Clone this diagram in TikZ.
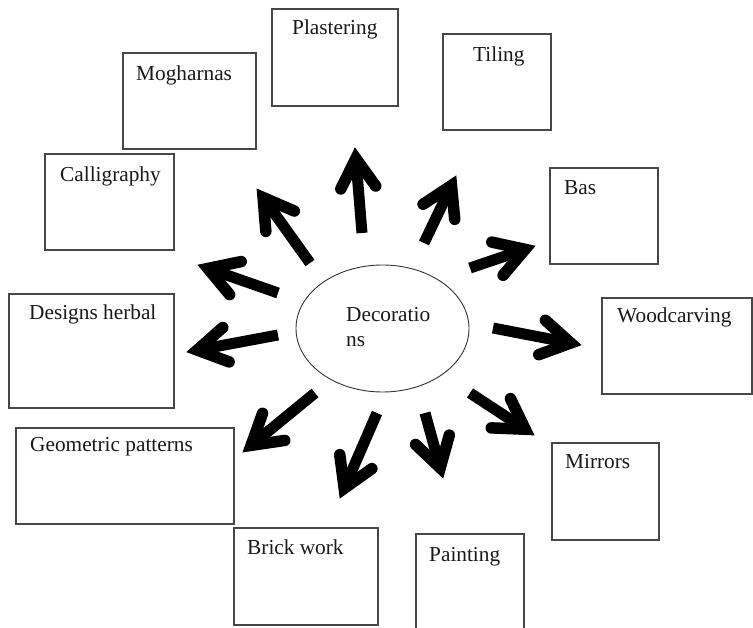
\documentclass[tikz,border=0pt]{standalone}
\usepackage{fontspec}
\setmainfont{Liberation Serif}
\usetikzlibrary{shapes.geometric,calc}
\tikzset{
  box/.style={draw=black!72, line width=1.3pt, rectangle, inner sep=0pt, outer sep=0pt, anchor=north west},
  lbl/.style={anchor=base west, inner sep=0pt, font=\fontsize{21.3}{25}\selectfont, text=black!90},
  oval/.style={draw=black!80, line width=0.9pt, ellipse, inner sep=0pt, outer sep=0pt},
  fatshaft/.style={line width=11pt, line cap=butt},
  fathead/.style={line width=11.5pt, line cap=round, line join=miter, miter limit=10},
}
\newcommand\fatarrow[2]{%
  \coordinate (tc) at ($(#2)!10.5pt!(#1)$);
  \draw[fatshaft] (#1) -- (tc);
  \draw[fathead] ($(tc)!34pt!31:(#1)$) -- (tc) -- ($(tc)!34pt!-31:(#1)$);
}
\begin{document}
\begin{tikzpicture}[x=1pt,y=-1pt]
\useasboundingbox (0,0) rectangle (753,628);
\clip (0,0) rectangle (753,628);
\fill[white] (0,0) rectangle (753,628);

% boxes
\node[box, minimum width=126pt, minimum height=97pt] (plaster) at (272,9) {};
\node[box, minimum width=108pt, minimum height=96pt] (tiling) at (443,34) {};
\node[box, minimum width=133pt, minimum height=96pt] (mogh) at (123,53) {};
\node[box, minimum width=129pt, minimum height=96pt] (calli) at (45,154) {};
\node[box, minimum width=108pt, minimum height=96pt] (bas) at (550,168) {};
\node[box, minimum width=150pt, minimum height=96pt] (wood) at (602,298) {};
\node[box, minimum width=165pt, minimum height=114pt] (herbal) at (9,294) {};
\node[box, minimum width=218pt, minimum height=96pt] (geom) at (16,428) {};
\node[box, minimum width=144pt, minimum height=97pt] (brick) at (234,528) {};
\node[box, minimum width=107pt, minimum height=97pt] (mirror) at (552,443) {};
\node[box, minimum width=108pt, minimum height=110pt] (paint) at (416,534) {};

% labels
\node[lbl] at ($(plaster.north west)+(20,26)$) {Plastering};
\node[lbl] at ($(tiling.north west)+(30,28)$) {Tiling};
\node[lbl] at ($(mogh.north west)+(13,28)$) {Mogharnas};
\node[lbl] at ($(calli.north west)+(15,28)$) {Calligraphy};
\node[lbl] at ($(bas.north west)+(14,27)$) {Bas};
\node[lbl] at ($(wood.north west)+(15,25)$) {Woodcarving};
\node[lbl] at ($(herbal.north west)+(20,26)$) {Designs herbal};
\node[lbl] at ($(geom.north west)+(14,24)$) {Geometric patterns};
\node[lbl] at ($(brick.north west)+(13,26)$) {Brick work};
\node[lbl] at ($(mirror.north west)+(13,25)$) {Mirrors};
\node[lbl] at ($(paint.north west)+(13,27)$) {Painting};

% centre
\node[oval, minimum width=173pt, minimum height=127pt] (deco) at (382.5,328.5) {};
\node[lbl] at ($(deco.center)+(-36.5,-6.5)$) {Decoratio};
\node[lbl] at ($(deco.center)+(-36.5,18.5)$) {ns};

% arrow ends
\coordinate (t1) at (362,233); \coordinate (h1) at (355,148);
\coordinate (t2) at (424,243); \coordinate (h2) at (456,176);
\coordinate (t3) at (470,268); \coordinate (h3) at (535,246);
\coordinate (t4) at (493,328); \coordinate (h4) at (581,345);
\coordinate (t5) at (470,393); \coordinate (h5) at (534,435);
\coordinate (t6) at (425,413); \coordinate (h6) at (443,478);
\coordinate (t7) at (377,413); \coordinate (h7) at (340,498);
\coordinate (t8) at (315,393); \coordinate (h8) at (243,452);
\coordinate (t9) at (278,335); \coordinate (h9) at (187,352);
\coordinate (t10) at (278,293); \coordinate (h10) at (198,265);
\coordinate (t11) at (310,263); \coordinate (h11) at (257,189);

\fatarrow{t1}{h1}
\fatarrow{t2}{h2}
\fatarrow{t3}{h3}
\fatarrow{t4}{h4}
\fatarrow{t5}{h5}
\fatarrow{t6}{h6}
\fatarrow{t7}{h7}
\fatarrow{t8}{h8}
\fatarrow{t9}{h9}
\fatarrow{t10}{h10}
\fatarrow{t11}{h11}
\end{tikzpicture}
\end{document}
